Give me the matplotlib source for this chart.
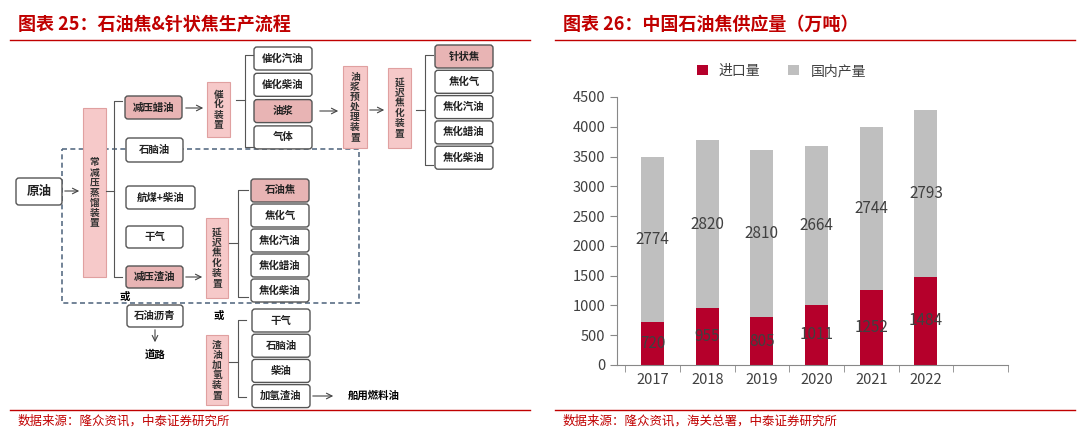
import matplotlib
matplotlib.use("Agg")
import matplotlib.pyplot as plt
from matplotlib.patches import FancyBboxPatch, Rectangle

plt.rcParams["font.family"] = ["Noto Sans CJK SC", "DejaVu Sans"]

years = ["2017", "2018", "2019", "2020", "2021", "2022"]
imports = [720, 955, 805, 1011, 1252, 1484]
domestic = [2774, 2820, 2810, 2664, 2744, 2793]
y_ticks = [0, 500, 1000, 1500, 2000, 2500, 3000, 3500, 4000, 4500]

RED = "#B5002B"
GRAY = "#BFBFBF"
TRED = "#C00000"
PINK = "#E8B4B4"

fig = plt.figure(figsize=(10.8, 4.33), dpi=100)
bg = fig.add_axes([0, 0, 1, 1])
bg.set_xlim(0, 1080); bg.set_ylim(433, 0); bg.axis("off")

# titles and rules
bg.text(18, 24, "图表 25：石油焦&针状焦生产流程", color=TRED, fontsize=13, fontweight="bold", style="italic", va="center")
bg.text(563, 24, "图表 26：中国石油焦供应量（万吨）", color=TRED, fontsize=13, fontweight="bold", style="italic", va="center")
for x0, x1 in [(10, 530), (555, 1075)]:
    bg.plot([x0, x1], [40, 40], color=TRED, lw=1)
    bg.plot([x0, x1], [410, 410], color=TRED, lw=1)
bg.text(18, 421, "数据来源：隆众资讯，中泰证券研究所", color=TRED, fontsize=9, va="center")
bg.text(563, 421, "数据来源：隆众资讯，海关总署，中泰证券研究所", color=TRED, fontsize=9, va="center")

def box(x0, y0, x1, y1, txt, fill="white", fs=7.5):
    bg.add_patch(FancyBboxPatch((x0, y0), x1 - x0, y1 - y0, boxstyle="round,pad=0,rounding_size=3",
                                fc=fill, ec="#555555", lw=1))
    bg.text((x0 + x1) / 2, (y0 + y1) / 2, txt, ha="center", va="center", fontsize=fs, fontweight="bold", color="#222222")

def vbox(x0, y0, x1, y1, txt):
    bg.add_patch(Rectangle((x0, y0), x1 - x0, y1 - y0, fc="#F6C9C9", ec="#E0A0A0", lw=0.8))
    bg.text((x0 + x1) / 2, (y0 + y1) / 2, "\n".join(txt), ha="center", va="center", fontsize=7,
            fontweight="bold", color="#333333", linespacing=1.0)

def arrow(x0, y0, x1, y1):
    bg.annotate("", xy=(x1, y1), xytext=(x0, y0), arrowprops=dict(arrowstyle="->", color="#444444", lw=0.8))

def bracket(x, y0, y1, xin):
    bg.plot([xin, x, x, xin], [y0, y0, y1, y1], color="#555555", lw=0.8)

# dashed region
bg.add_patch(Rectangle((62, 149), 297, 154, fill=False, ec="#5A6E85", lw=1.2, ls=(0, (3, 2))))

box(16, 178, 62, 205, "原油", fs=9)
arrow(62, 191, 82, 191)
vbox(83, 108, 106, 277, "常减压蒸馏装置")
bracket(114, 101, 277, 122)
bg.plot([106, 114], [191, 191], color="#555555", lw=0.8)
box(125, 96, 182, 119, "减压蜡油", PINK)
box(126, 138, 183, 162, "石脑油")
box(126, 186, 195, 209, "航煤+柴油")
box(126, 226, 183, 248, "干气")
box(126, 266, 183, 288, "减压渣油", PINK)
arrow(183, 108, 206, 108)
arrow(183, 277, 205, 277)

vbox(207, 82, 230, 137, "催化装置")
bracket(245, 55, 147, 253)
bg.plot([236, 245], [100, 100], color="#555555", lw=0.8)
for i, t in enumerate(["催化汽油", "催化柴油", "油浆", "气体"]):
    box(254, 47 + 26.3 * i, 312, 70 + 26.3 * i, t, PINK if t == "油浆" else "white")
arrow(317, 111, 341, 111)
vbox(343, 66, 367, 148, "油浆预处理装置")
arrow(367, 110, 387, 110)
vbox(388, 68, 411, 148, "延迟焦化装置")
bracket(425, 55, 165, 433)
bg.plot([416, 425], [110, 110], color="#555555", lw=0.8)
for i, t in enumerate(["针状焦", "焦化气", "焦化汽油", "焦化蜡油", "焦化柴油"]):
    box(435, 45 + 25.3 * i, 493, 68 + 25.3 * i, t, PINK if i == 0 else "white")

vbox(206, 218, 228, 298, "延迟焦化装置")
bracket(238, 190, 297, 248)
bg.plot([229, 238], [243, 243], color="#555555", lw=0.8)
for i, t in enumerate(["石油焦", "焦化气", "焦化汽油", "焦化蜡油", "焦化柴油"]):
    box(251, 179 + 25 * i, 309, 202 + 25 * i, t, PINK if i == 0 else "white")

bg.text(125, 297, "或", fontsize=7.5, fontweight="bold", ha="center", va="center")
box(127, 305, 183, 327, "石油沥青")
arrow(155, 327, 155, 345)
bg.text(155, 355, "道路", fontsize=7.5, fontweight="bold", ha="center", va="center")
bg.text(219, 316, "或", fontsize=7.5, fontweight="bold", ha="center", va="center")
vbox(206, 335, 228, 405, "渣油加氢装置")
bracket(238, 320, 397, 246)
bg.plot([229, 238], [362, 362], color="#555555", lw=0.8)
for i, t in enumerate(["干气", "石脑油", "柴油", "加氢渣油"]):
    box(252, 309 + 25.2 * i, 310, 332 + 25.2 * i, t)
arrow(310, 396, 336, 396)
bg.text(348, 396, "船用燃料油", fontsize=7.5, fontweight="bold", ha="left", va="center")

# bar chart
ax = fig.add_axes([617 / 1080, 1 - 365 / 433, (1008 - 617) / 1080, (365 - 97) / 433])
x = list(range(len(years)))
ax.bar(x, imports, width=0.42, color=RED, label="进口量")
ax.bar(x, domestic, width=0.42, bottom=imports, color=GRAY, label="国内产量")
for i in x:
    ax.text(i, imports[i] / 2, str(imports[i]), ha="center", va="center", fontsize=11, color="#404040")
    ax.text(i, imports[i] + domestic[i] / 2, str(domestic[i]), ha="center", va="center", fontsize=11, color="#404040")
ax.set_xlim(-0.65, 5.85)
ax.set_ylim(0, 4500)
ax.set_yticks(y_ticks)
ax.set_xticks(x)
ax.set_xticklabels(years)
ax.set_xticks([i - 0.5 for i in range(8)], minor=True)
ax.tick_params(axis="x", which="major", length=0, labelsize=10.5, colors="#404040", pad=6)
ax.tick_params(axis="x", which="minor", length=5, color="#888888")
ax.tick_params(axis="y", labelsize=10.5, colors="#404040", length=5, color="#888888")
for s in ["top", "right"]:
    ax.spines[s].set_visible(False)
ax.spines["left"].set_color("#888888")
ax.spines["bottom"].set_color("#888888")
ax.legend(loc="upper center", bbox_to_anchor=(0.42, 1.17), ncol=2, frameon=False, fontsize=10,
          handlelength=0.8, handleheight=0.8, labelcolor="#404040")

fig.savefig("out.png", dpi=100)
